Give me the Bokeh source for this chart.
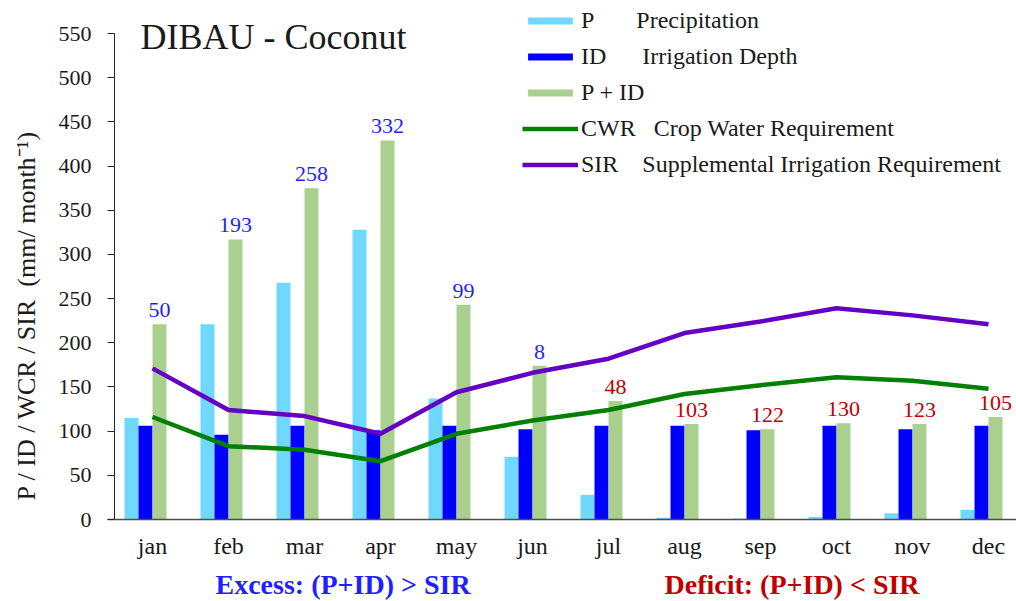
import numpy as np
from bokeh.plotting import figure
from bokeh.models import (ColumnDataSource, Range1d, FixedTicker, Label,
                          Legend, LegendItem)
from bokeh.core.properties import value
from bokeh.embed import file_html
from bokeh.resources import INLINE

# ---------------- data ----------------
months = ["jan", "feb", "mar", "apr", "may", "jun",
          "jul", "aug", "sep", "oct", "nov", "dec"]
precip = [115, 221, 268, 328, 137, 71, 28, 2, 1, 3, 7, 11]          # P
irrigation = [106, 96, 106, 101, 106, 102, 106, 106, 101, 106, 102, 106]  # ID
p_plus_id = [221, 317, 375, 429, 243, 174, 134, 108, 102, 109, 108, 116]  # P + ID
cwr = [116, 83, 79, 66, 97, 112, 124, 142, 152, 161, 157, 148]      # CWR
sir = [171, 124, 117, 97, 144, 166, 182, 211, 224, 239, 231, 221]   # SIR
balance = [50, 193, 258, 332, 99, 8, 48, 103, 122, 130, 123, 105]   # |P+ID - SIR|
y_ticks = list(range(0, 551, 50))

# ---------------- styling ----------------
FONT = "Liberation Serif"
C_P = "#70d8ff"
C_ID = "#0000ff"
C_PID = "#a9d08e"
C_CWR = "#008000"
C_SIR = "#6300c4"
C_EXC = "#1f1fff"
C_DEF = "#c00000"
TXT = "#1a1a1a"

W, H = 1016, 601
cat_w = 76.0                  # px per month
y_px = 486.0 / 550.0          # px per mm
x0_px, y0_px = 152.0, 519.0   # canvas px of (jan, 0)
bw = 14.0 / cat_w             # bar width in month units

xi = np.arange(len(months))
src = ColumnDataSource(dict(
    x=xi,
    xp=xi - 1.5 * bw,
    xid=xi - 0.5 * bw,
    xpid=xi + 0.5 * bw,
    precip=precip, irrigation=irrigation, p_plus_id=p_plus_id,
    cwr=cwr, sir=sir,
    label=[str(v) for v in balance],
    lab_color=[C_EXC if a > b else C_DEF for a, b in zip(p_plus_id, sir)],
))

x_start = -x0_px / cat_w
x_end = x_start + W / cat_w
y_end = y0_px / y_px
y_start = -(H - y0_px) / y_px

p = figure(width=W, height=H,
           x_range=Range1d(x_start, x_end),
           y_range=Range1d(y_start, y_end),
           output_backend="svg", toolbar_location=None,
           min_border_left=0, min_border_right=0,
           min_border_top=0, min_border_bottom=0)
p.xgrid.visible = False
p.ygrid.visible = False
p.outline_line_color = None
p.background_fill_color = "white"
p.border_fill_color = "white"

r_p = p.vbar(x="xp", top="precip", width=bw, source=src,
             fill_color=C_P, line_color=None)
r_id = p.vbar(x="xid", top="irrigation", width=bw, source=src,
              fill_color=C_ID, line_color=None)
r_pid = p.vbar(x="xpid", top="p_plus_id", width=bw, source=src,
               fill_color=C_PID, line_color=None)
r_cwr = p.line(x="x", y="cwr", source=src, line_color=C_CWR,
               line_width=4.5, line_join="round")
r_sir = p.line(x="x", y="sir", source=src, line_color=C_SIR,
               line_width=4.5, line_join="round")

p.text(x="xpid", y="p_plus_id", text="label", text_color="lab_color",
       source=src, text_font=value(FONT), text_font_size="22px",
       text_align="center", text_baseline="middle", y_offset=-14)

# ---------------- axes ----------------
ya = p.yaxis[0]
ya.fixed_location = -0.5
ya.bounds = (0, 550)
ya.ticker = FixedTicker(ticks=y_ticks)
ya.major_label_text_font = FONT
ya.major_label_text_font_size = "22px"
ya.major_label_text_color = TXT
ya.major_tick_out = 7
ya.major_tick_in = 0
ya.minor_tick_out = 0
ya.minor_tick_in = 0
ya.major_label_standoff = 16
ya.axis_line_color = "#262626"
ya.major_tick_line_color = "#262626"

xa = p.xaxis[0]
xa.fixed_location = 0
xa.bounds = (-0.5 - 7.0 / cat_w, x_end)
xa.ticker = FixedTicker(ticks=list(range(len(months))))
xa.major_label_overrides = {i: m for i, m in enumerate(months)}
xa.major_label_text_font = FONT
xa.major_label_text_font_size = "24px"
xa.major_label_text_color = TXT
xa.major_tick_out = 0
xa.major_tick_in = 0
xa.minor_tick_out = 0
xa.minor_tick_in = 0
xa.major_label_standoff = 13
xa.axis_line_color = "#4d4d4d"
xa.axis_line_width = 1.5

# ---------------- legend ----------------
nb = "\u00a0"
legend = Legend(items=[
    LegendItem(label="P" + nb * 7 + "Precipitation", renderers=[r_p]),
    LegendItem(label="ID" + nb * 6 + "Irrigation Depth", renderers=[r_id]),
    LegendItem(label="P + ID", renderers=[r_pid]),
    LegendItem(label="CWR" + nb * 3 + "Crop Water Requirement", renderers=[r_cwr]),
    LegendItem(label="SIR" + nb * 4 + "Supplemental Irrigation Requirement", renderers=[r_sir]),
], location=(522, H - 178), orientation="vertical",
    glyph_width=56, glyph_height=9, label_height=24, spacing=9,
    padding=0, margin=0, label_standoff=3,
    border_line_alpha=0, background_fill_alpha=0,
    label_text_font=FONT, label_text_font_size="24px", label_text_color=TXT)
p.add_layout(legend)

# ---------------- texts (canvas px, y from bottom) ----------------
p.add_layout(Label(x=140, y=H - 36, x_units="screen", y_units="screen",
                   text="DIBAU - Coconut", text_font=FONT,
                   text_font_size="36px", text_color=TXT,
                   text_baseline="middle"))
p.add_layout(Label(x=26, y=H - 315, x_units="screen", y_units="screen",
                   text="P / ID / WCR / SIR" + nb + nb + "(mm/ month\u207b\u00b9)",
                   angle=np.pi / 2, text_align="center", text_baseline="middle",
                   text_font=FONT, text_font_size="26px", text_color=TXT))
p.add_layout(Label(x=215, y=H - 584, x_units="screen", y_units="screen",
                   text="Excess: (P+ID) > SIR", text_font=FONT,
                   text_font_style="bold", text_font_size="28px",
                   text_color=C_EXC, text_baseline="middle"))
p.add_layout(Label(x=664, y=H - 584, x_units="screen", y_units="screen",
                   text="Deficit: (P+ID) < SIR", text_font=FONT,
                   text_font_style="bold", text_font_size="28px",
                   text_color=C_DEF, text_baseline="middle"))

open("out.html", "w").write(file_html(p, INLINE))
